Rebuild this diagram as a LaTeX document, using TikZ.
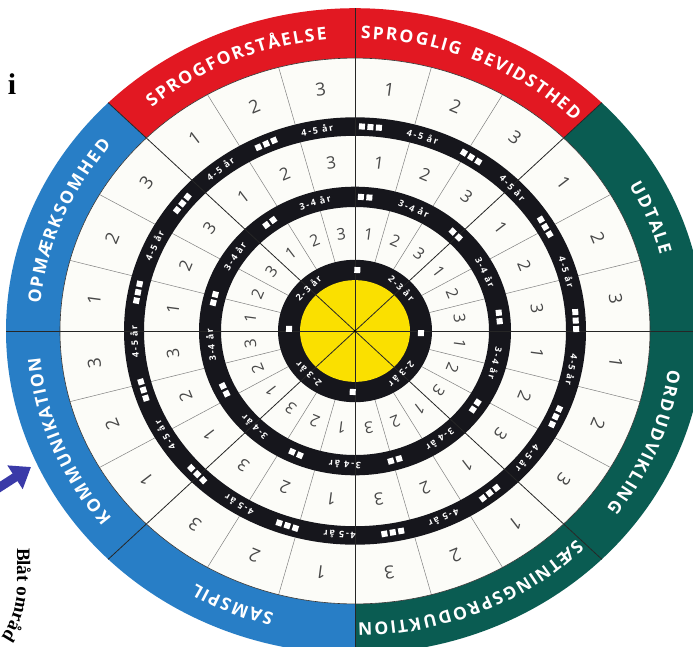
\documentclass[tikz,border=0pt]{standalone}
\usepackage{fontspec}
\setmainfont{Liberation Serif}
\newfontfamily\sansf{Open Sans}
\newfontfamily\ringf[LetterSpace=20]{Open Sans}
\usetikzlibrary{arrows.meta}

\definecolor{cred}{RGB}{226,24,34}
\definecolor{cblue}{RGB}{40,126,198}
\definecolor{cgreen}{RGB}{10,92,82}
\definecolor{cyel}{RGB}{250,224,0}
\definecolor{cblack}{RGB}{22,22,28}
\definecolor{cwhite}{RGB}{252,252,248}
\definecolor{cnum}{RGB}{72,72,72}
\definecolor{carrow}{RGB}{58,58,168}

\newcommand\sqr{\textcolor{white}{\rule{6pt}{6pt}}}
\newcommand\sqg{\hspace{2.5pt}}
\newcommand\bandf{\sansf\bfseries\fontsize{17.5}{17.5}\selectfont}
\newcommand\blatf{\bfseries\fontsize{19}{19}\selectfont}

% letters (letter/width in em) of a band title, centred in the 45-degree sector
% that starts at #1 and runs clockwise
\newcommand\bandtext[2]{%
  \pgfmathsetmacro\tcen{#1-22.5}%
  \pgfmathsetmacro\reffr{100*sqrt((3.16*sin(\tcen))^2+(2.923*cos(\tcen))^2)}%
  \xdef\totw{0}%
  \foreach \L/\W in {#2}{\pgfmathsetmacro\tmpw{\totw+18.4*\W+1.6}\xdef\totw{\tmpw}}%
  \pgfmathsetmacro\startang{\tcen+(\totw-1.6)/2/\reffr*180/pi}%
  \xdef\curang{\startang}%
  \foreach \L/\W in {#2}{%
    \pgfmathsetmacro\tm{\curang-(18.4*\W/2)/\reffr*180/pi}%
    \node[bandlet, rotate=\tm-90] at (\tm:316 and 292.3) {\L};
    \pgfmathsetmacro\nxtang{\curang-(18.4*\W+1.6)/\reffr*180/pi}%
    \xdef\curang{\nxtang}%
  }%
}

\tikzset{
  numA/.style={font=\sansf\fontsize{16}{16}\selectfont, text=cnum, inner sep=0},
  numB/.style={font=\sansf\fontsize{17}{17}\selectfont, text=cnum, inner sep=0},
  numC/.style={font=\sansf\fontsize{18}{18}\selectfont, text=cnum, inner sep=0},
  ringlab/.style={font=\ringf\bfseries\fontsize{9}{9}\selectfont, text=white, inner sep=0},
  bandlet/.style={font=\bandf, text=white, inner sep=0, anchor=base},
  blatlet/.style={font=\blatf, inner sep=0, anchor=base},
  sqnode/.style={inner sep=0},
  gridline/.style={draw=black!50, line width=0.5pt},
  divline/.style={draw=black!85, line width=0.8pt},
}

\begin{document}
\begin{tikzpicture}[x=1pt,y=1pt]
\useasboundingbox (0,0) rectangle (693,-646);
\fill[white] (0,0) rectangle (693,-646);
\begin{scope}
\clip (0,0) rectangle (693,-646);
\begin{scope}[shift={(355,-331)}]
  % coloured band
  \foreach \angA/\colr in {135/cred, 90/cred, 45/cgreen, 0/cgreen, -45/cgreen, -90/cblue, -135/cblue, 180/cblue}{
    \fill[\colr] (\angA:349 and 322.8) arc[start angle=\angA, end angle=\angA-45, x radius=349, y radius=322.8]
      -- (\angA-45:295 and 272.9) arc[start angle=\angA-45, end angle=\angA, x radius=295, y radius=272.9] -- cycle;
  }
  \fill[cwhite] (0,0) ellipse[x radius=295, y radius=272.9];
  % thin cell lines
  \foreach \j in {0,...,23}{
    \pgfmathtruncatemacro\modv{mod(\j,3)}
    \ifnum\modv>0
      \pgfmathsetmacro\tang{15*\j}
      \draw[gridline] (\tang:77 and 71.2) -- (\tang:134 and 124);
      \draw[gridline] (\tang:156 and 144.3) -- (\tang:211 and 195.2);
      \draw[gridline] (\tang:231 and 213.7) -- (\tang:295 and 272.9);
    \fi
  }
  % black rings and yellow core
  \fill[cblack, even odd rule] (0,0) ellipse[x radius=231, y radius=213.7] (0,0) ellipse[x radius=211, y radius=195.2];
  \fill[cblack, even odd rule] (0,0) ellipse[x radius=156, y radius=144.3] (0,0) ellipse[x radius=134, y radius=124];
  \fill[cblack] (0,0) ellipse[x radius=77, y radius=71.2];
  \fill[cyel] (0,0) ellipse[x radius=55, y radius=50.9];
  % domain dividers
  \foreach \tang in {0,45,...,315} \draw[divline] (0,0) -- (\tang:349 and 322.8);
  \draw[black!80, line width=0.6pt] (0,0) ellipse[x radius=295, y radius=272.9];
  \fill[black] (0,0) circle (1.5);
  % cell numbers
  \foreach \j in {0,...,23}{
    \pgfmathtruncatemacro\lab{3-mod(\j,3)}
    \pgfmathsetmacro\cang{15*\j+7.5}
    \node[numA, rotate=\cang-90] (nA\j) at (\cang:105.5 and 97.6) {\lab};
    \node[numB, rotate=\cang-90] (nB\j) at (\cang:183.5 and 169.7) {\lab};
    \node[numC, rotate=\cang-90] (nC\j) at (\cang:263 and 243.3) {\lab};
  }
  % ring 1
  \foreach \angA in {45,135,225,315} \node[ringlab, rotate=\angA-90] (ra\angA) at (\angA:66 and 61) {2-3 år};
  \foreach \angA in {88,358,178,268} \node[sqnode, rotate=\angA-90] (sa\angA) at (\angA:66 and 61) {\sqr};
  % ring 2
  \foreach \q in {0,...,8}{
    \pgfmathsetmacro\angA{86+40*\q}
    \pgfmathsetmacro\angB{106+40*\q}
    \node[sqnode, rotate=\angA-90] (sb\q) at (\angA:145 and 134.1) {\sqr\sqg\sqr};
    \node[ringlab, rotate=\angB-90] (rb\q) at (\angB:145 and 134.1) {3-4 år};
  }
  % ring 3
  \foreach \q in {0,...,12}{
    \pgfmathsetmacro\angA{86+27.6923*\q}
    \pgfmathsetmacro\angB{99.846+27.6923*\q}
    \node[sqnode, rotate=\angA-90] (sc\q) at (\angA:221 and 204.4) {\sqr\sqg\sqr\sqg\sqr};
    \node[ringlab, rotate=\angB-90] (rc\q) at (\angB:221 and 204.4) {4-5 år};
  }
  % band texts
  \bandtext{135}{S/.55,P/.605,R/.63,O/.781,G/.732,F/.516,O/.781,R/.63,S/.55,T/.556,Å/.633,E/.556,L/.524,S/.55,E/.556}
  \bandtext{90}{S/.55,P/.605,R/.63,O/.781,G/.732,L/.524,I/.279,G/.732,~/.4,B/.648,E/.556,V/.609,I/.279,D/.729,S/.55,T/.556,H/.742,E/.556,D/.729}
  \bandtext{45}{U/.738,D/.729,T/.556,A/.633,L/.524,E/.556}
  \bandtext{0}{O/.781,R/.63,D/.729,U/.738,D/.729,V/.609,I/.279,K/.639,L/.524,I/.279,N/.764,G/.732}
  \bandtext{-45}{S/.55,Æ/.855,T/.556,N/.764,I/.279,N/.764,G/.732,S/.55,P/.605,R/.63,O/.781,D/.729,U/.738,K/.639,T/.556,I/.279,O/.781,N/.764}
  \bandtext{-90}{S/.55,A/.633,M/.908,S/.55,P/.605,I/.279,L/.524}
  \bandtext{-135}{K/.639,O/.781,M/.908,M/.908,U/.738,N/.764,I/.279,K/.639,A/.633,T/.556,I/.279,O/.781,N/.764}
  \bandtext{180}{O/.781,P/.605,M/.908,Æ/.855,R/.63,K/.639,S/.55,O/.781,M/.908,H/.742,E/.556,D/.729}
\end{scope}
% left-side marks
\node[font=\bfseries\fontsize{30}{30}\selectfont, inner sep=0] (iletter) at (12,-84) {i};
\coordinate (arrowtail) at (-14,-496);
\coordinate (arrowtip) at (31,-467);
\draw[carrow, line width=9pt, -{Triangle[length=19pt,width=27pt]}] (arrowtail) -- (arrowtip);
% "Blåt områd": straight down, then bending clockwise
\xdef\curpos{0}
\foreach \L/\W in {B/.667,l/.278,å/.5,t/.333}{
  \pgfmathsetmacro\tm{\curpos+19*\W/2}
  \node[blatlet, rotate=-90] at (17,-548-\tm) {\L};
  \pgfmathsetmacro\nxtang{\curpos+19*\W}
  \xdef\curpos{\nxtang}
}
\begin{scope}[shift={(-73,-548-\curpos-4.75)}]
  \xdef\curang{0}
  \foreach \L/\W in {o/.5,m/.833,r/.444,å/.5,d/.556}{
    \pgfmathsetmacro\tm{\curang-(19*\W/2)/90*180/pi}
    \node[blatlet, rotate=\tm-90] at (\tm:90) {\L};
    \pgfmathsetmacro\nxtang{\curang-19*\W/90*180/pi}
    \xdef\curang{\nxtang}
  }
\end{scope}
\end{scope}
\end{tikzpicture}
\end{document}
